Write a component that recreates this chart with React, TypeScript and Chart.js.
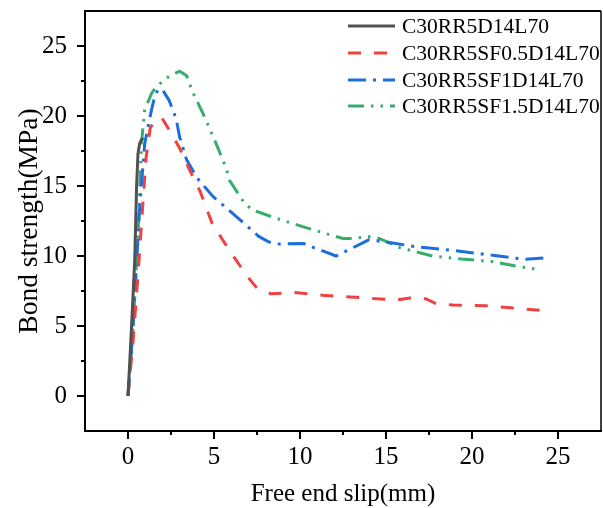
import React, { useEffect, useRef } from 'react';
import { Chart, registerables } from 'chart.js';

Chart.register(...registerables);

const SERIES_NAMES = ['C30RR5D14L70', 'C30RR5SF0.5D14L70', 'C30RR5SF1D14L70', 'C30RR5SF1.5D14L70'];

const SLIP_A = [0, 0.2, 0.39, 0.5, 0.58, 0.68, 0.8, 0.9];
const BOND_A = [0, 4.8, 9.7, 15.0, 17.3, 18.05, 18.35, 18.4];

const SLIP_B = [0, 0.3, 0.6, 0.8, 1.05, 1.3, 1.6, 1.95, 2.5, 3.0, 3.6, 4.2, 4.9, 5.9, 6.9, 7.5, 8.3, 9.7, 11.3, 13.8, 15.6, 16.4, 17.3, 17.9, 18.9, 20.8, 22.7, 24.6];
const BOND_B = [0, 4.0, 9.0, 12.6, 17.0, 19.2, 19.6, 19.9, 18.8, 17.7, 16.1, 14.6, 12.3, 10.4, 8.6, 7.7, 7.3, 7.4, 7.2, 7.0, 6.85, 7.0, 6.95, 6.6, 6.5, 6.45, 6.25, 6.05];

const SLIP_C = [0, 0.3, 0.68, 0.97, 1.16, 1.36, 1.55, 1.75, 2.0, 2.4, 2.8, 3.0, 3.4, 4.0, 4.9, 6.5, 7.6, 8.2, 8.8, 10.2, 10.8, 12.1, 14.0, 15.0, 16.7, 18.3, 20.2, 22.3, 23.1, 24.5];
const BOND_C = [0, 5.0, 13.5, 18.0, 19.2, 20.4, 21.4, 21.9, 21.9, 21.1, 19.8, 18.5, 16.9, 15.6, 14.3, 12.6, 11.4, 11.0, 10.85, 10.9, 10.6, 10.0, 11.15, 11.0, 10.67, 10.48, 10.2, 9.88, 9.76, 9.9];

const SLIP_D = [0, 0.3, 0.6, 0.78, 0.87, 0.97, 1.36, 1.64, 2.4, 3.0, 3.4, 3.8, 4.35, 5.1, 5.7, 5.9, 6.7, 7.2, 8.6, 10.15, 11.5, 12.5, 13.2, 13.9, 14.6, 15.8, 17.7, 19.4, 21.2, 22.7, 23.8];
const BOND_D = [0, 5.0, 12.0, 18.0, 19.2, 20.4, 21.6, 22.1, 22.85, 23.2, 22.9, 21.6, 20.2, 18.1, 16.3, 15.4, 13.9, 13.3, 12.7, 12.1, 11.6, 11.25, 11.25, 11.4, 11.25, 10.6, 10.0, 9.78, 9.6, 9.25, 9.05];

const X_TICKS = [0, 5, 10, 15, 20, 25];
const X_MINOR = [2.5, 7.5, 12.5, 17.5, 22.5];
const Y_TICKS = [0, 5, 10, 15, 20, 25];
const Y_MINOR = [2.5, 7.5, 12.5, 17.5, 22.5];

const X_TITLE = 'Free end slip(mm)';
const Y_TITLE = 'Bond strength(MPa)';

const COLORS = ['#515151', '#F14040', '#1A6FDF', '#37AD6B'];
const DASHES: number[][] = [[], [13, 13], [18, 7, 3, 7], [16, 7, 2.5, 7, 2.5, 7]];

const FONT = "'Liberation Serif', 'Times New Roman', serif";

const toPts = (xs: number[], ys: number[]) => xs.map((x, i) => ({ x, y: ys[i] }));

const framePlugin = {
  id: 'frameTicks',
  afterDraw(chart: any) {
    const { ctx, chartArea, scales } = chart;
    const { left, right, top, bottom } = chartArea;
    const sx = scales.x;
    const sy = scales.y;
    ctx.save();
    ctx.strokeStyle = '#000';
    ctx.setLineDash([]);
    ctx.lineWidth = 2;
    ctx.beginPath();
    ctx.moveTo(left - 1, top);
    ctx.lineTo(right, top);
    ctx.stroke();
    ctx.lineWidth = 1.5;
    ctx.beginPath();
    ctx.moveTo(right, top);
    ctx.lineTo(right, bottom + 1);
    ctx.stroke();
    ctx.lineWidth = 2;
    const hline = (v: number, len: number) => {
      const px = Math.round(sx.getPixelForValue(v));
      ctx.beginPath();
      ctx.moveTo(px, bottom);
      ctx.lineTo(px, bottom + len);
      ctx.stroke();
    };
    const vline = (v: number, len: number) => {
      const py = Math.round(sy.getPixelForValue(v));
      ctx.beginPath();
      ctx.moveTo(left, py);
      ctx.lineTo(left - len, py);
      ctx.stroke();
    };
    X_TICKS.forEach((v) => hline(v, 8));
    X_MINOR.forEach((v) => hline(v, 4));
    Y_TICKS.forEach((v) => vline(v, 8));
    Y_MINOR.forEach((v) => vline(v, 4));

    // legend
    const rows = [26, 53, 80, 106];
    ctx.font = `21.5px ${FONT}`;
    ctx.textBaseline = 'middle';
    ctx.textAlign = 'left';
    chart.data.datasets.forEach((ds: any, i: number) => {
      const yy = rows[i];
      ctx.strokeStyle = ds.borderColor;
      ctx.lineWidth = 3;
      ctx.setLineDash(ds.borderDash || []);
      ctx.beginPath();
      ctx.moveTo(348, yy);
      ctx.lineTo(395, yy);
      ctx.stroke();
      ctx.setLineDash([]);
      ctx.fillStyle = '#000';
      ctx.fillText(ds.label, 402, yy + 1);
    });
    ctx.restore();
  },
};

export default function App() {
  const ref = useRef<HTMLCanvasElement | null>(null);
  useEffect(() => {
    if (!ref.current) return;
    const series = [toPts(SLIP_A, BOND_A), toPts(SLIP_B, BOND_B), toPts(SLIP_C, BOND_C), toPts(SLIP_D, BOND_D)];
    const chart = new Chart(ref.current, {
      type: 'line',
      data: {
        datasets: series.map((d, i) => ({
          label: SERIES_NAMES[i],
          data: d,
          borderColor: COLORS[i],
          backgroundColor: COLORS[i],
          borderWidth: 3,
          borderDash: DASHES[i],
          pointRadius: 0,
          tension: 0,
          fill: false,
        })),
      },
      options: {
        animation: false,
        responsive: false,
        devicePixelRatio: 1,
        layout: { padding: { top: 11, right: 2, left: 0, bottom: 0 } },
        plugins: { legend: { display: false }, tooltip: { enabled: false } },
        scales: {
          x: {
            type: 'linear',
            min: -2.5,
            max: 27.5,
            afterFit: (s: any) => { s.height = 77; s.paddingLeft = 0; s.paddingRight = 0; },
            afterBuildTicks: (s: any) => { s.ticks = X_TICKS.map((v) => ({ value: v })); },
            grid: { drawOnChartArea: false, drawTicks: true, tickLength: 8, color: 'rgba(0,0,0,0)', tickColor: 'rgba(0,0,0,0)' },
            border: { display: true, color: '#000', width: 2 },
            ticks: { color: '#000', padding: 3, font: { family: FONT, size: 25 }, maxRotation: 0, autoSkip: false, callback: (v: any) => String(v) },
            title: { display: true, text: X_TITLE, color: '#000', font: { family: FONT, size: 25, lineHeight: 1 }, padding: { top: 0, bottom: 1 } },
          },
          y: {
            type: 'linear',
            min: -2.5,
            max: 27.5,
            afterFit: (s: any) => { s.width = 85; s.paddingTop = 0; s.paddingBottom = 0; },
            afterBuildTicks: (s: any) => { s.ticks = Y_TICKS.map((v) => ({ value: v })); },
            grid: { drawOnChartArea: false, drawTicks: true, tickLength: 8, color: 'rgba(0,0,0,0)', tickColor: 'rgba(0,0,0,0)' },
            border: { display: true, color: '#000', width: 2 },
            ticks: { color: '#000', padding: 10, font: { family: FONT, size: 25 }, autoSkip: false, callback: (v: any) => String(v) },
            title: { display: true, text: Y_TITLE, color: '#000', font: { family: FONT, size: 27.5, lineHeight: 1 }, padding: { top: 16, bottom: 0 } },
          },
        },
      },
      plugins: [framePlugin],
    } as any);
    return () => chart.destroy();
  }, []);
  return (
    <div style={{ position: 'fixed', left: 0, top: 0, width: 603, height: 508, background: '#fff' }}>
      <canvas ref={ref} width={603} height={508} style={{ width: 603, height: 508, display: 'block' }} />
    </div>
  );
}
